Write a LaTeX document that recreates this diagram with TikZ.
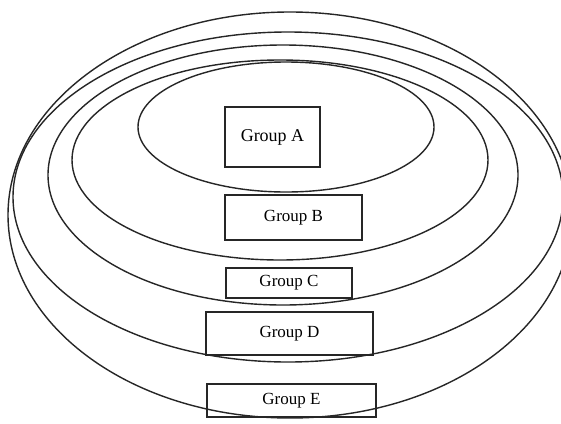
\documentclass[tikz,border=0pt]{standalone}
\usepackage{fontspec}
\setmainfont{Liberation Serif}
\begin{document}
\begin{tikzpicture}[x=1pt,y=-1pt,
  ring/.style={draw=black!85, line width=1.4pt},
  grpbox/.style={draw=black!85, line width=1.1pt, rectangle, inner sep=0pt,
    font=\fontsize{17}{20}\selectfont}]
\useasboundingbox[fill=white] (0,0) rectangle (561,423);
% rings (outer to inner)
\draw[ring] (290,215) ellipse [x radius=282, y radius=203];
\draw[ring] (288,197) ellipse [x radius=275, y radius=165];
\draw[ring] (283,175) ellipse [x radius=235, y radius=130];
\draw[ring] (280,160) ellipse [x radius=208, y radius=100];
\draw[ring] (286,127) ellipse [x radius=148, y radius=65];
% group boxes
\node[grpbox, minimum width=95pt, minimum height=60pt, font=\fontsize{18}{21}\selectfont] (ga) at (272.5,137) {Group A};
\node[grpbox, minimum width=137pt, minimum height=45pt] (gb) at (293.5,217.5) {Group B};
\node[grpbox, minimum width=126pt, minimum height=30pt] (gc) at (289,283) {Group C};
\node[grpbox, minimum width=167pt, minimum height=43pt] (gd) at (289.5,333.5) {Group D};
\node[grpbox, minimum width=169pt, minimum height=33pt] (ge) at (291.5,400.5) {Group E};
\end{tikzpicture}
\end{document}
